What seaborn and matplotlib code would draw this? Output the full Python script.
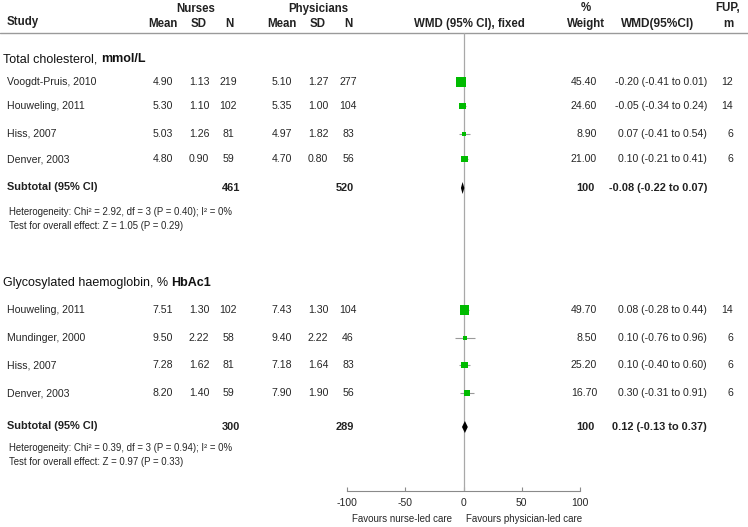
import numpy as np
import pandas as pd
import seaborn as sns
import matplotlib.pyplot as plt

# Data
chol_study = ['Voogdt-Pruis, 2010', 'Houweling, 2011', 'Hiss, 2007', 'Denver, 2003']
chol_nurse_mean = [4.90, 5.30, 5.03, 4.80]
chol_nurse_sd = [1.13, 1.10, 1.26, 0.90]
chol_nurse_n = [219, 102, 81, 59]
chol_phys_mean = [5.10, 5.35, 4.97, 4.70]
chol_phys_sd = [1.27, 1.00, 1.82, 0.80]
chol_phys_n = [277, 104, 83, 56]
chol_weight = [45.40, 24.60, 8.90, 21.00]
chol_wmd = [-0.20, -0.05, 0.07, 0.10]
chol_lo = [-0.41, -0.34, -0.41, -0.21]
chol_hi = [0.01, 0.24, 0.54, 0.41]
chol_fup = [12, 14, 6, 6]
chol_total = {'nurse_n': 461, 'phys_n': 520, 'weight': 100, 'wmd': -0.08, 'lo': -0.22, 'hi': 0.07}
chol_het = 'Heterogeneity: Chi² = 2.92, df = 3 (P = 0.40); I² = 0%'
chol_test = 'Test for overall effect: Z = 1.05 (P = 0.29)'

hba_study = ['Houweling, 2011', 'Mundinger, 2000', 'Hiss, 2007', 'Denver, 2003']
hba_nurse_mean = [7.51, 9.50, 7.28, 8.20]
hba_nurse_sd = [1.30, 2.22, 1.62, 1.40]
hba_nurse_n = [102, 58, 81, 59]
hba_phys_mean = [7.43, 9.40, 7.18, 7.90]
hba_phys_sd = [1.30, 2.22, 1.64, 1.90]
hba_phys_n = [104, 46, 83, 56]
hba_weight = [49.70, 8.50, 25.20, 16.70]
hba_wmd = [0.08, 0.10, 0.10, 0.30]
hba_lo = [-0.28, -0.76, -0.40, -0.31]
hba_hi = [0.44, 0.96, 0.60, 0.91]
hba_fup = [14, 6, 6, 6]
hba_total = {'nurse_n': 300, 'phys_n': 289, 'weight': 100, 'wmd': 0.12, 'lo': -0.13, 'hi': 0.37}
hba_het = 'Heterogeneity: Chi² = 0.39, df = 3 (P = 0.94); I² = 0%'
hba_test = 'Test for overall effect: Z = 0.97 (P = 0.33)'

axis_ticks = [-100, -50, 0, 50, 100]
plot_scale = 10  # effects are drawn x10 on the displayed axis

# layout (pixel rows)
W, H = 748, 527
TOP_Y, AXIS_Y = 33, 491
X0, X1 = 347, 580
chol_rows = [82, 106, 134, 159]
hba_rows = [310, 338, 365, 393]

sns.set_theme(style='white')
plt.rcParams['font.family'] = ['Liberation Sans', 'DejaVu Sans']

fig = plt.figure(figsize=(W / 100, H / 100), dpi=100)
tx = fig.add_axes([0, 0, 1, 1])
tx.set_xlim(0, W)
tx.set_ylim(H, 0)
tx.axis('off')

ax = fig.add_axes([X0 / W, 1 - AXIS_Y / H, (X1 - X0) / W, (AXIS_Y - TOP_Y) / H])
ax.patch.set_alpha(0)
ax.set_xlim(-100, 100)
ax.set_ylim(AXIS_Y, TOP_Y)

TXT = '#262626'
fs = 7.6

# header
hb = dict(fontsize=8.3, fontweight='bold', color='#222222', va='center')
tx.text(196, 9, 'Nurses', ha='center', **hb)
tx.text(318, 9, 'Physicians', ha='center', **hb)
tx.text(7, 22, 'Study', ha='left', **hb)
for x, s in [(163, 'Mean'), (199, 'SD'), (229, 'N'), (282, 'Mean'), (318, 'SD'), (348, 'N')]:
    tx.text(x, 24, s, ha='center', **hb)
tx.text(469, 24, 'WMD (95% CI), fixed', ha='center', **hb)
tx.text(586, 8, '%', ha='center', **hb)
tx.text(586, 24, 'Weight', ha='center', **hb)
tx.text(658, 24, 'WMD(95%CI)', ha='center', fontsize=8.6, fontweight='bold',
        color='#222222', va='center')
tx.text(728, 8, 'FUP,', ha='center', **hb)
tx.text(728, 24, 'm', ha='center', **hb)
tx.plot([0, W], [TOP_Y, TOP_Y], color='#9a9a9a', lw=1)


def heading(y, part1, part2):
    t = tx.text(3, y, part1, ha='left', va='baseline', fontsize=9, color='#111111')
    tx.annotate(part2, xy=(1, 0), xycoords=t, ha='left', va='bottom',
                fontsize=9, fontweight='bold', color='#111111')


def wmd_text(w, lo, hi):
    return f'{w:.2f} ({lo:.2f} to {hi:.2f})'


def draw_group(rows, study, nm, nsd, nn, pm, psd, pn, wt, wmd, lo, hi, fup,
               total, sub_y, het, test, het_y):
    for i, y in enumerate(rows):
        tx.text(7, y, study[i], ha='left', va='center', fontsize=fs, color=TXT)
        tx.text(163, y, f'{nm[i]:.2f}', ha='center', va='center', fontsize=fs, color=TXT)
        tx.text(199, y, f'{nsd[i]:.2f}', ha='center', va='center', fontsize=fs, color=TXT)
        tx.text(228, y, str(nn[i]), ha='center', va='center', fontsize=fs, color=TXT)
        tx.text(282, y, f'{pm[i]:.2f}', ha='center', va='center', fontsize=fs, color=TXT)
        tx.text(318, y, f'{psd[i]:.2f}', ha='center', va='center', fontsize=fs, color=TXT)
        tx.text(348, y, str(pn[i]), ha='center', va='center', fontsize=fs, color=TXT)
        tx.text(597, y, f'{wt[i]:.2f}', ha='right', va='center', fontsize=fs, color=TXT)
        tx.text(707, y, wmd_text(wmd[i], lo[i], hi[i]), ha='right', va='center', fontsize=fs, color=TXT)
        tx.text(733, y, str(fup[i]), ha='right', va='center', fontsize=fs, color=TXT)

    df = pd.DataFrame({'y': rows, 'wmd': np.array(wmd) * plot_scale,
                       'lo': np.array(lo) * plot_scale, 'hi': np.array(hi) * plot_scale,
                       'weight': wt})
    ax.hlines(df['y'], df['lo'], df['hi'], color='#9a9a9a', lw=0.8, zorder=2)
    sns.scatterplot(data=df, x='wmd', y='y', size='weight', sizes=(0, 60), size_norm=(0, 60),
                    marker='s', color='#00bb00', edgecolor='none', legend=False, ax=ax, zorder=3)

    # subtotal
    bb = dict(fontsize=fs + 0.3, fontweight='bold', color='#222222', va='center')
    tx.text(7, sub_y - 1, 'Subtotal (95% CI)', ha='left', **bb)
    tx.text(231, sub_y, str(total['nurse_n']), ha='center', **bb)
    tx.text(345, sub_y, str(total['phys_n']), ha='center', **bb)
    tx.text(595, sub_y, str(total['weight']), ha='right', **bb)
    tx.text(707, sub_y, wmd_text(total['wmd'], total['lo'], total['hi']), ha='right', **bb)
    e, l, h = (total[k] * plot_scale for k in ('wmd', 'lo', 'hi'))
    ax.fill([l, e, h, e], [sub_y, sub_y - 6, sub_y, sub_y + 6], color='black', zorder=4, lw=0)

    tx.text(9, het_y, het, ha='left', va='center', fontsize=6.9, color=TXT)
    tx.text(9, het_y + 14, test, ha='left', va='center', fontsize=6.9, color=TXT)


heading(62, 'Total cholesterol, ', 'mmol/L')
draw_group(chol_rows, chol_study, chol_nurse_mean, chol_nurse_sd, chol_nurse_n,
           chol_phys_mean, chol_phys_sd, chol_phys_n, chol_weight, chol_wmd, chol_lo, chol_hi,
           chol_fup, chol_total, 188, chol_het, chol_test, 212)

heading(286, 'Glycosylated haemoglobin, % ', 'HbAc1')
draw_group(hba_rows, hba_study, hba_nurse_mean, hba_nurse_sd, hba_nurse_n,
           hba_phys_mean, hba_phys_sd, hba_phys_n, hba_weight, hba_wmd, hba_lo, hba_hi,
           hba_fup, hba_total, 427, hba_het, hba_test, 448)

# axis
ax.axvline(0, color='#a8a8a8', lw=0.9, zorder=1)
for side in ['top', 'right', 'left']:
    ax.spines[side].set_visible(False)
ax.spines['bottom'].set_color('#8a8a8a')
ax.spines['bottom'].set_linewidth(0.8)
ax.set_yticks([])
ax.set_xticks(axis_ticks)
ax.set_xticklabels([str(t) for t in axis_ticks])
ax.tick_params(axis='x', direction='in', length=3, width=0.8, color='#8a8a8a',
               labelsize=7.5, labelcolor=TXT, pad=5, bottom=True)
ax.set_xlabel('')
ax.set_ylabel('')
tx.text(402, 519, 'Favours nurse-led care', ha='center', va='center', fontsize=7, color=TXT)
tx.text(524, 519, 'Favours physician-led care', ha='center', va='center', fontsize=7, color=TXT)

fig.savefig('out.png', dpi=100)
